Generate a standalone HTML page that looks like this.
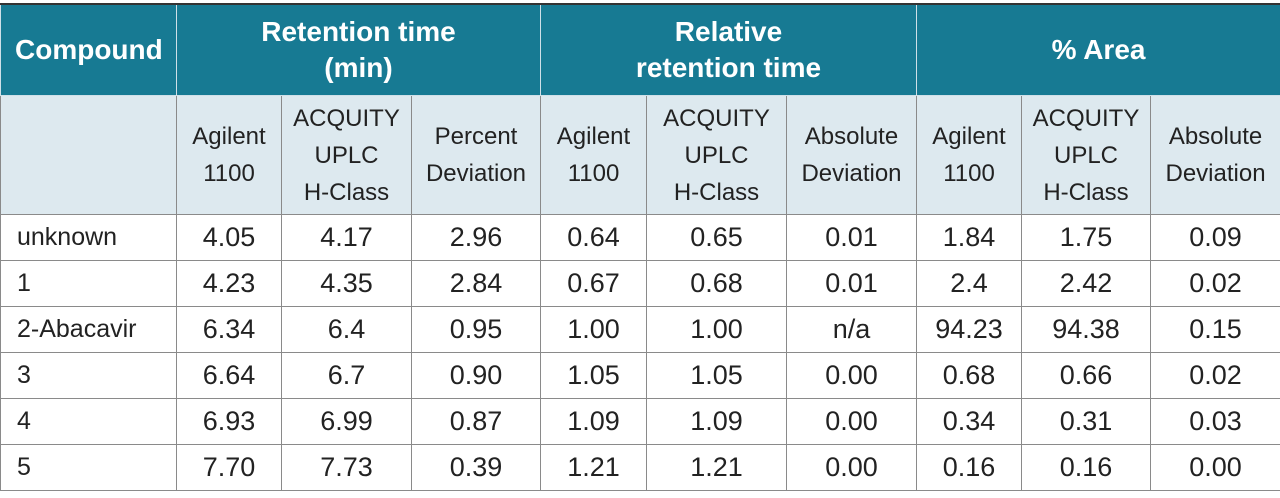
<!DOCTYPE html>
<html><head><meta charset="utf-8"><style>
html,body{margin:0;padding:0;background:#fff;width:1280px;height:498px;overflow:hidden}
table{position:absolute;left:0;top:3px;border-collapse:collapse;table-layout:fixed;width:1280px;font-family:"Liberation Sans Narrow","Liberation Sans",sans-serif;color:#222}
td,th{border:1.5px solid #8a8a8a;text-align:center;padding:0;overflow:hidden}
th.h{background:#177a93;color:#fff;font-weight:bold;font-size:28px;line-height:36px;height:90px;border-color:#cfe0e8;border-top:2px solid #333}
th.s{background:#dde9ef;font-weight:normal;font-size:24px;line-height:37px;height:118px;color:#222}
td{font-size:27px;height:45px;line-height:45px}
td.c{text-align:left;padding-left:16px;font-size:25px}
</style></head><body>
<table>
<colgroup><col style="width:176px"><col style="width:105px"><col style="width:130px"><col style="width:129px"><col style="width:106px"><col style="width:140px"><col style="width:130px"><col style="width:105px"><col style="width:129px"><col style="width:130px"></colgroup>
<tr>
<th class="h" style="text-align:left;padding-left:14px">Compound</th>
<th class="h" colspan="3">Retention time<br>(min)</th>
<th class="h" colspan="3">Relative<br>retention time</th>
<th class="h" colspan="3">% Area</th>
</tr>
<tr>
<th class="s"></th>
<th class="s">Agilent<br>1100</th>
<th class="s">ACQUITY<br>UPLC<br>H-Class</th>
<th class="s">Percent<br>Deviation</th>
<th class="s">Agilent<br>1100</th>
<th class="s">ACQUITY<br>UPLC<br>H-Class</th>
<th class="s">Absolute<br>Deviation</th>
<th class="s">Agilent<br>1100</th>
<th class="s">ACQUITY<br>UPLC<br>H-Class</th>
<th class="s">Absolute<br>Deviation</th>
</tr>
<tr><td class="c">unknown</td><td>4.05</td><td>4.17</td><td>2.96</td><td>0.64</td><td>0.65</td><td>0.01</td><td>1.84</td><td>1.75</td><td>0.09</td></tr>
<tr><td class="c">1</td><td>4.23</td><td>4.35</td><td>2.84</td><td>0.67</td><td>0.68</td><td>0.01</td><td>2.4</td><td>2.42</td><td>0.02</td></tr>
<tr><td class="c">2-Abacavir</td><td>6.34</td><td>6.4</td><td>0.95</td><td>1.00</td><td>1.00</td><td>n/a</td><td>94.23</td><td>94.38</td><td>0.15</td></tr>
<tr><td class="c">3</td><td>6.64</td><td>6.7</td><td>0.90</td><td>1.05</td><td>1.05</td><td>0.00</td><td>0.68</td><td>0.66</td><td>0.02</td></tr>
<tr><td class="c">4</td><td>6.93</td><td>6.99</td><td>0.87</td><td>1.09</td><td>1.09</td><td>0.00</td><td>0.34</td><td>0.31</td><td>0.03</td></tr>
<tr><td class="c">5</td><td>7.70</td><td>7.73</td><td>0.39</td><td>1.21</td><td>1.21</td><td>0.00</td><td>0.16</td><td>0.16</td><td>0.00</td></tr>
</table>
</body></html>
